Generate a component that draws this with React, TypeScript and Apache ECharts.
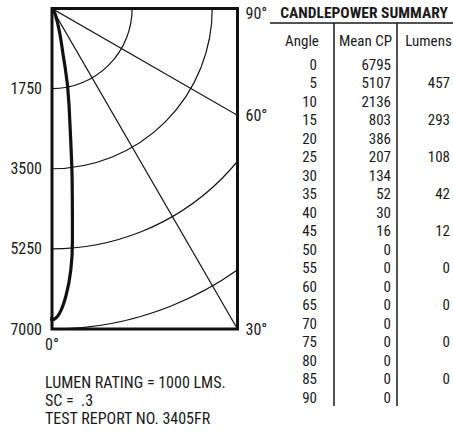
import React, { useEffect, useRef } from 'react';
import * as echarts from 'echarts';

// ---- data ----
const angles = [0, 5, 10, 15, 20, 25, 30, 35, 40, 45, 50, 55, 60, 65, 70, 75, 80, 85, 90];
const meanCP = [6795, 5107, 2136, 803, 386, 207, 134, 52, 30, 16, 0, 0, 0, 0, 0, 0, 0, 0, 0];
const lumenAngles = [5, 15, 25, 35, 45, 55, 65, 75, 85];
const lumens = [457, 293, 108, 42, 12, 0, 0, 0, 0];
const radiusTicks = [1750, 3500, 5250, 7000];
const rayAngles = [30, 60];
const edgeAngles = [90, 60, 30];
const notes = ['LUMEN RATING = 1000 LMS.', 'SC =  .3', 'TEST REPORT NO. 3405FR'];
const tableTitle = 'CANDLEPOWER SUMMARY';
const headers = ['Angle', 'Mean CP', 'Lumens'];

const R_MAX = 7000;
const DEG = Math.PI / 180;
const X_MAX = R_MAX * Math.tan(30 * DEG);

const FONT = "'Liberation Sans Narrow', 'Arial Narrow', 'Roboto Condensed', 'DejaVu Sans Condensed', sans-serif";
const INK = '#1a1a1a';

export default function App() {
  const ref = useRef<HTMLDivElement>(null);

  useEffect(() => {
    if (!ref.current) return;
    const chart = echarts.init(ref.current, undefined, { renderer: 'svg' });

    const curve = angles.map((a, i) => [meanCP[i] * Math.sin(a * DEG), meanCP[i] * Math.cos(a * DEG)]);
    // symmetric distribution: mirror the 5° point so the curve is smooth across nadir
    const curveData = [[-curve[1][0], curve[1][1]], ...curve];

    const rowY = (i: number) => 64.5 + 18.5 * i;
    const graphics: any[] = [];
    graphics.push({
      type: 'text', x: 364, y: 13,
      style: { text: tableTitle, fontSize: 15.5, fontWeight: 'bold', fontFamily: FONT, fill: INK, align: 'center', verticalAlign: 'middle' },
    });
    graphics.push({ type: 'line', shape: { x1: 270, y1: 23, x2: 453, y2: 23 }, style: { stroke: INK, lineWidth: 1.3 } });
    [334, 397].forEach((x) => {
      graphics.push({ type: 'line', shape: { x1: x, y1: 23, x2: x, y2: 406 }, style: { stroke: INK, lineWidth: 1.5 } });
    });
    const headerX = [302, 365.5, 428.5];
    headers.forEach((h, i) => {
      graphics.push({
        type: 'text', x: headerX[i], y: 41,
        style: { text: h, fontSize: 15, fontFamily: FONT, fill: INK, align: 'center', verticalAlign: 'middle' },
      });
    });
    angles.forEach((a, i) => {
      graphics.push({
        type: 'text', x: 317, y: rowY(i),
        style: { text: String(a), fontSize: 15, fontFamily: FONT, fill: INK, align: 'right', verticalAlign: 'middle' },
      });
      graphics.push({
        type: 'text', x: 391, y: rowY(i),
        style: { text: String(meanCP[i]), fontSize: 15, fontFamily: FONT, fill: INK, align: 'right', verticalAlign: 'middle' },
      });
    });
    lumenAngles.forEach((a, k) => {
      const i = angles.indexOf(a);
      graphics.push({
        type: 'text', x: 450, y: rowY(i),
        style: { text: String(lumens[k]), fontSize: 15, fontFamily: FONT, fill: INK, align: 'right', verticalAlign: 'middle' },
      });
    });
    notes.forEach((t, i) => {
      graphics.push({
        type: 'text', x: 45, y: 382 + 18 * i,
        style: { text: t, fontSize: 16, fontFamily: FONT, fill: INK, align: 'left', verticalAlign: 'middle' },
      });
    });

    chart.setOption({
      animation: false,
      backgroundColor: '#ffffff',
      grid: {
        left: 52, top: 8.5, width: 185.5, height: 320.5,
        show: true, borderColor: '#111', borderWidth: 3, backgroundColor: 'transparent',
      },
      xAxis: {
        type: 'value', min: 0, max: X_MAX,
        axisLine: { show: false }, axisTick: { show: false }, splitLine: { show: false },
        axisLabel: {
          customValues: [0],
          formatter: (v: number) => (v === 0 ? '0°' : ''),
          fontSize: 16, fontFamily: FONT, color: INK, margin: 7,
        },
      },
      yAxis: [
        {
          type: 'value', min: 0, max: R_MAX, interval: 1750, inverse: true, position: 'left',
          axisLine: { show: false }, axisTick: { show: false }, splitLine: { show: false },
          axisLabel: {
            formatter: (v: number) => (v === 0 ? '' : String(v)),
            fontSize: 16, fontFamily: FONT, color: INK, margin: 10,
          },
        },
        {
          type: 'value', min: 0, max: R_MAX, inverse: true, position: 'right',
          axisLine: { show: false }, axisTick: { show: false }, splitLine: { show: false },
          axisLabel: {
            customValues: edgeAngles.map((a) => (a === 90 ? 0 : X_MAX / Math.tan(a * DEG))),
            formatter: (v: number) => {
              const a = Math.round(Math.atan2(X_MAX, v) / DEG);
              return a === 90 ? '{top|' + a + '°}' : a + '°';
            },
            rich: { top: { fontSize: 16, fontFamily: FONT, color: INK, padding: [9, 0, 0, 0] } },
            fontSize: 16, fontFamily: FONT, color: INK, margin: 8,
          },
        },
      ],
      series: [
        {
          type: 'custom', name: 'arcs', clip: true, silent: true,
          data: radiusTicks.map((r) => [0, r]),
          encode: { x: 0, y: 1 },
          renderItem: (params: any, api: any) => {
            const r = api.value(1);
            const c = api.coord([0, 0]);
            const e = api.coord([0, r]);
            return {
              type: 'arc',
              shape: { cx: c[0], cy: c[1], r: Math.abs(e[1] - c[1]), startAngle: 0, endAngle: Math.PI / 2, clockwise: true },
              style: { stroke: '#111', lineWidth: 1.2, fill: null },
            };
          },
        },
        {
          type: 'custom', name: 'rays', clip: true, silent: true,
          data: rayAngles.map((a) => [a, 0]),
          encode: { x: 1, y: 1 },
          renderItem: (params: any, api: any) => {
            const a = api.value(0) * DEG;
            const far = R_MAX * 4;
            const c = api.coord([0, 0]);
            const e = api.coord([far * Math.sin(a), far * Math.cos(a)]);
            return {
              type: 'line',
              shape: { x1: c[0], y1: c[1], x2: e[0], y2: e[1] },
              style: { stroke: '#111', lineWidth: 1.2 },
            };
          },
        },
        {
          type: 'line', name: 'Mean CP', data: curveData, smooth: 0.5, symbol: 'none', clip: true,
          lineStyle: { color: '#111', width: 3.2 },
        },
      ],
      graphic: graphics.map((g) => ({ ...g, z: 100 })),
    });

    return () => chart.dispose();
  }, []);

  return <div ref={ref} style={{ position: 'absolute', left: 0, top: 0, width: 453, height: 431 }} />;
}
